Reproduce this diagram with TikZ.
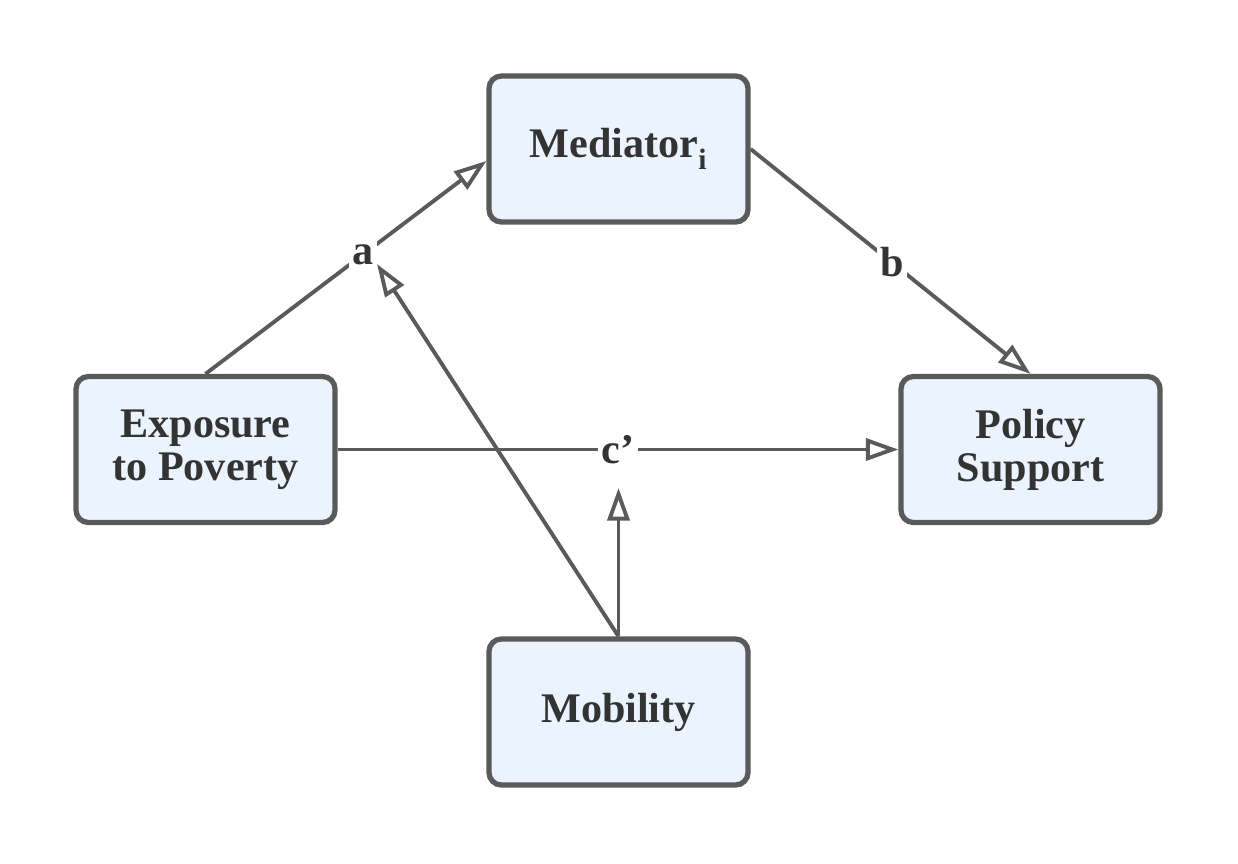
\documentclass[tikz,border=0pt]{standalone}
\usepackage{fontspec}
\setmainfont{Liberation Serif}
\usetikzlibrary{arrows.meta,calc}
\definecolor{boxfill}{HTML}{EBF4FE}
\definecolor{edgecol}{HTML}{5A5A5A}
\definecolor{txtcol}{HTML}{333333}
\begin{document}
\begin{tikzpicture}[x=0.02cm,y=-0.02cm,
  varbox/.style={draw=edgecol,fill=boxfill,line width=3pt,rounded corners=7pt,
    minimum width=5.18cm,minimum height=2.92cm,align=center,text=txtcol,
    font=\fontsize{24}{24.5}\selectfont\bfseries},
  conn/.style={draw=edgecol,line width=2.2pt,
    -{Triangle[open,length=18.5pt,width=12.5pt,line width=2.2pt]}},
  lbl/.style={fill=white,inner sep=2pt,text=txtcol,font=\fontsize{24}{24}\selectfont\bfseries}]
\useasboundingbox (0,0) rectangle (1238,863);
\node[varbox] (med) at (618.5,149) {Mediator\raisebox{-0.12em}{\textsubscript{i}}};
\node[varbox] (exp) at (205.5,449.5) {Exposure\\to Poverty};
\node[varbox] (pol) at (1030.5,449.5) {Policy\\Support};
\node[varbox] (mob) at (618.5,712) {Mobility};
\coordinate (medin) at ($(med.west)+(0,12)$);
\coordinate (atip) at (377,264);
\coordinate (ctip) at (618.5,488);
\draw[conn] (exp.north) -- node[lbl,pos=0.56] (la) {a} (medin);
\draw[conn] (med.east) -- node[lbl,pos=0.505] (lb) {b} (pol.north);
\draw[conn] (exp.east) -- node[lbl,pos=0.5] (lc) {c'} (pol.west);
\draw[conn] (mob.north) -- (atip);
\draw[conn] (mob.north) -- (ctip);
\end{tikzpicture}
\end{document}
